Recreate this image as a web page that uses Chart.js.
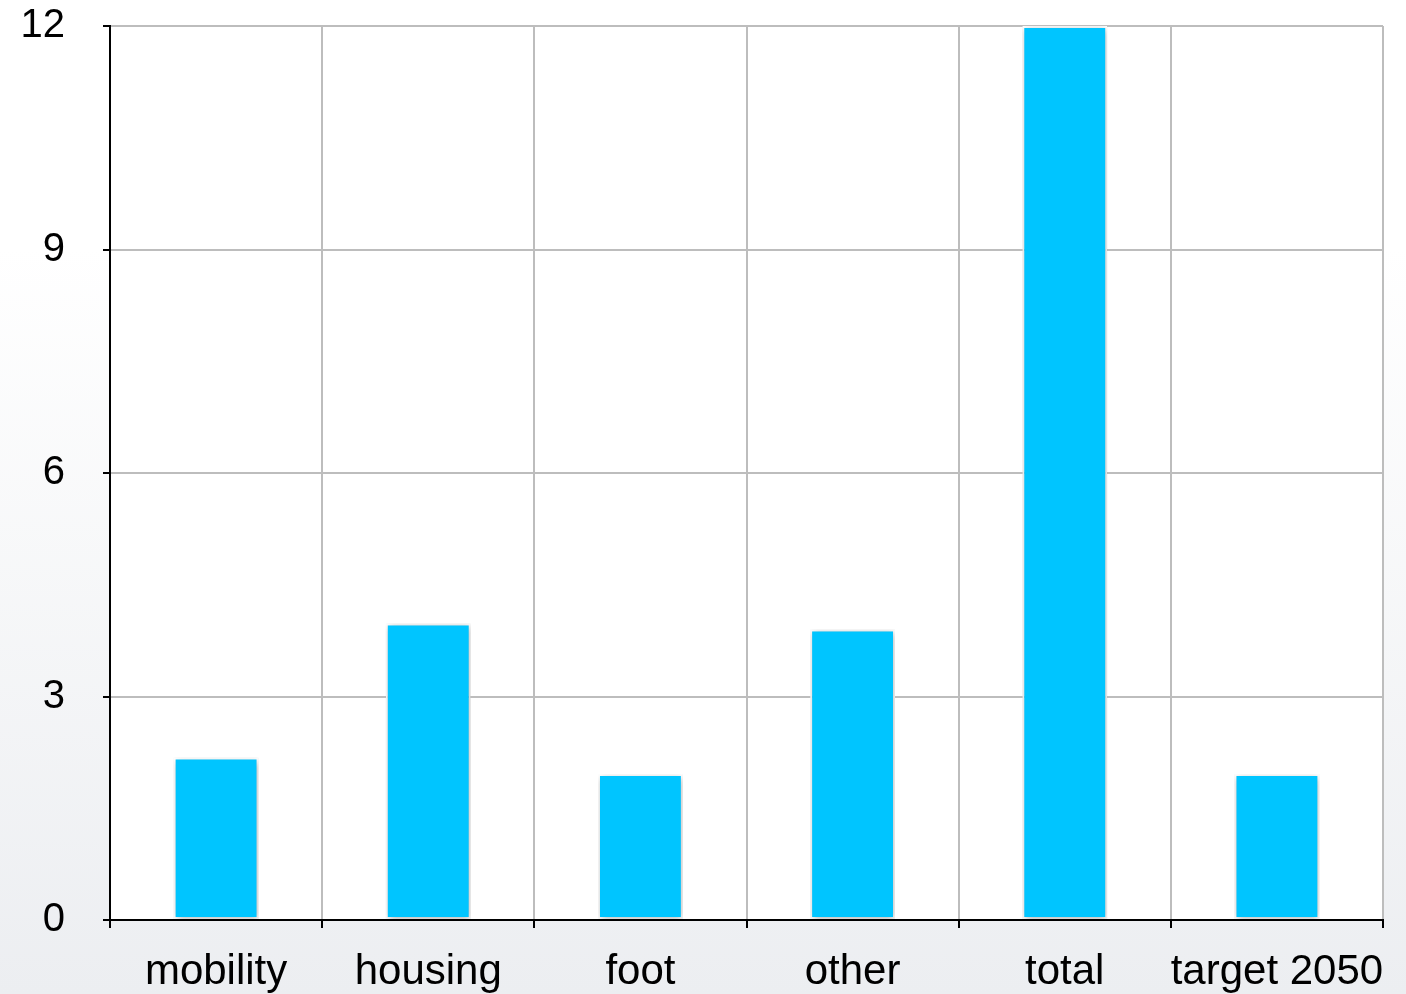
<!DOCTYPE html>
<html lang="en">
<head>
    <meta charset="UTF-8">
    <title>Emissions by sector</title>
    <script src="https://cdn.jsdelivr.net/npm/chart.js"></script>
    <style>
        html, body { margin: 0; padding: 0; }
        body {
            width: 1406px; height: 994px; overflow: hidden;
            background: linear-gradient(to bottom, #ffffff 0%, #ffffff 25%, #eceef1 100%);
        }
        canvas { display: block; }
    </style>
</head>
<body>
    <canvas id="barChart" width="1406" height="994"></canvas>
    <script>
        const categories = ['mobility', 'housing', 'foot', 'other', 'total', 'target 2050'];
        const values = [2.18, 3.98, 1.96, 3.9, 12, 1.96];
        const yTicks = [0, 3, 6, 9, 12];

        // white plot area + soft shadow under bars
        const plotBg = {
            id: 'plotBg',
            beforeDraw(chart) {
                const { ctx, chartArea: a } = chart;
                ctx.save();
                ctx.fillStyle = '#ffffff';
                ctx.fillRect(a.left, a.top, a.right - a.left, a.bottom - a.top);
                ctx.restore();
            },
            beforeDatasetsDraw(chart) {
                const ctx = chart.ctx;
                ctx.save();
                ctx.shadowColor = 'rgba(0,0,0,0.3)';
                ctx.shadowBlur = 7;
                ctx.shadowOffsetX = 1;
                ctx.shadowOffsetY = 2;
            },
            afterDatasetsDraw(chart) {
                chart.ctx.restore();
            }
        };

        new Chart(document.getElementById('barChart'), {
            type: 'bar',
            data: {
                labels: categories,
                datasets: [{
                    data: values,
                    backgroundColor: '#00c5ff',
                    borderColor: '#ffffff',
                    borderWidth: 2,
                    borderSkipped: false,
                    barPercentage: 0.40,
                    categoryPercentage: 1
                }]
            },
            options: {
                responsive: false,
                animation: false,
                layout: { padding: { top: 26, right: 23, left: 0, bottom: 0 } },
                plugins: {
                    legend: { display: false },
                    tooltip: { enabled: false }
                },
                scales: {
                    x: {
                        offset: true,
                        grid: {
                            offset: true,
                            color: '#bdbdbd',
                            lineWidth: 2,
                            tickColor: '#000',
                            tickLength: 8,
                            tickWidth: 2
                        },
                        border: { color: '#000', width: 2 },
                        ticks: {
                            color: '#000',
                            padding: 19,
                            autoSkip: false,
                            maxRotation: 0,
                            font: { family: 'Liberation Sans, Arial, sans-serif', size: 42 }
                        },
                        afterFit(scale) {
                            scale.height = 74;
                            scale.paddingLeft = 0;
                            scale.paddingRight = 0;
                        }
                    },
                    y: {
                        min: 0,
                        max: 12,
                        afterBuildTicks(scale) {
                            scale.ticks = yTicks.map(v => ({ value: v }));
                        },
                        grid: {
                            color: '#bdbdbd',
                            lineWidth: 2,
                            tickColor: '#000',
                            tickLength: 7,
                            tickWidth: 2
                        },
                        border: { color: '#000', width: 2 },
                        ticks: {
                            color: '#000',
                            padding: 38,
                            font: { family: 'Liberation Sans, Arial, sans-serif', size: 40 }
                        },
                        afterFit(scale) {
                            scale.width = 110;
                            scale.paddingTop = 0;
                            scale.paddingBottom = 0;
                        }
                    }
                }
            },
            plugins: [plotBg]
        });
    </script>
</body>
</html>
